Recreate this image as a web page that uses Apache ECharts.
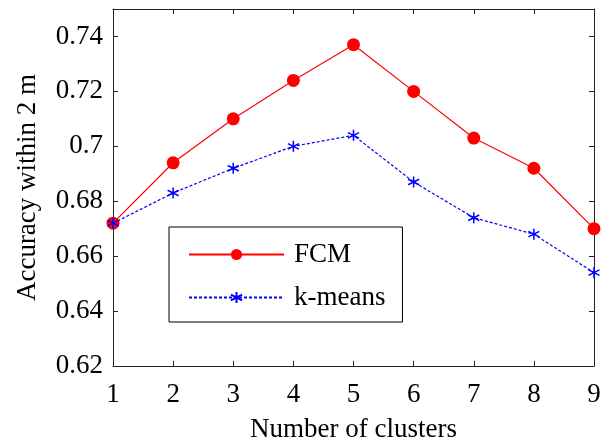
<!DOCTYPE html>
<html lang="en">
<head>
    <meta charset="UTF-8">
    <title>Accuracy vs clusters</title>
    <style>
        html, body { margin: 0; padding: 0; background: #fff; }
    </style>
</head>
<body>
<div id="main" style="width: 604px;height:443px;"></div>
<script type="text/javascript" src="https://cdn.jsdelivr.net/npm/echarts@6/dist/echarts.min.js"></script>
<script type="text/javascript">

    // data
    var clusters = [1, 2, 3, 4, 5, 6, 7, 8, 9];
    var fcm = [0.672, 0.694, 0.710, 0.724, 0.737, 0.720, 0.703, 0.692, 0.670];
    var kmeans = [0.672, 0.683, 0.692, 0.700, 0.704, 0.687, 0.674, 0.668, 0.654];

    var font = 'Liberation Serif';
    var axisColor = '#222';

    function pairs(ys) {
        return clusters.map(function (x, i) { return [x, ys[i]]; });
    }

    // asterisk marker (drawn with the stroke only)
    var star = 'path://M0,-10 L0,10 M-8.66,-5 L8.66,5 M-8.66,5 L8.66,-5';

    var myChart = echarts.init(document.getElementById('main'));

    var xBase = {
        type: 'value', min: 1, max: 9, interval: 1,
        axisLine: {lineStyle: {color: axisColor, width: 1}},
        axisTick: {inside: true, length: 5, lineStyle: {color: axisColor}},
        splitLine: {show: false}
    };
    var yBase = {
        type: 'value', min: 0.62, max: 0.75, interval: 0.02,
        axisLine: {show: true, lineStyle: {color: axisColor, width: 1}},
        axisTick: {show: true, inside: true, length: 5, lineStyle: {color: axisColor}},
        splitLine: {show: false}
    };

    myChart.setOption({
        animation: false,
        grid: {left: 113, right: 10, top: 9, bottom: 77, containLabel: false, outerBoundsMode: 'none'},
        legend: {
            orient: 'vertical',
            left: 169,
            top: 227,
            padding: [14, 17, 11, 19],
            borderColor: '#000',
            borderWidth: 1,
            backgroundColor: '#fff',
            itemWidth: 95,
            itemHeight: 14,
            itemGap: 16,
            textStyle: {fontFamily: font, fontSize: 27, color: '#000', padding: [0, 0, 0, 5]},
            data: ['FCM', 'k-means']
        },
        xAxis: [
            echarts.util.merge({
                position: 'bottom',
                name: 'Number of clusters',
                nameLocation: 'middle',
                nameGap: 50,
                nameTextStyle: {fontFamily: font, fontSize: 27, color: '#000'},
                axisLabel: {fontFamily: font, fontSize: 27, color: '#000', margin: 15}
            }, xBase, true),
            echarts.util.merge({position: 'top', axisLabel: {show: false}}, xBase, true)
        ],
        yAxis: [
            echarts.util.merge({
                position: 'left',
                name: 'Accuracy within 2 m',
                nameLocation: 'middle',
                nameGap: 72,
                nameTextStyle: {fontFamily: font, fontSize: 27, color: '#000'},
                axisLabel: {fontFamily: font, fontSize: 27, color: '#000', margin: 10, showMaxLabel: false}
            }, yBase, true),
            echarts.util.merge({position: 'right', axisLabel: {show: false}}, yBase, true)
        ],
        series: [
            {
                name: 'FCM',
                type: 'line',
                data: pairs(fcm),
                symbol: 'circle',
                symbolSize: 13,
                lineStyle: {color: '#ff0000', width: 1.2},
                itemStyle: {color: '#ff0000'},
                z: 2
            },
            {
                name: 'k-means',
                type: 'line',
                data: pairs(kmeans),
                symbol: star,
                symbolSize: 11,
                lineStyle: {color: '#0000ff', width: 1.2, type: [3, 2]},
                itemStyle: {color: '#0000ff', borderColor: '#0000ff', borderWidth: 1.5},
                z: 3
            }
        ]
    });
</script>
</body>
</html>
